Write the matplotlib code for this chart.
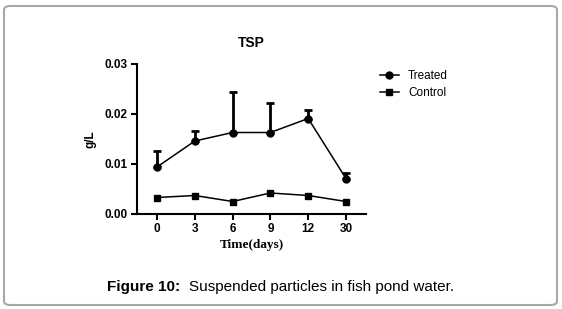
import matplotlib
matplotlib.use("Agg")
import matplotlib.pyplot as plt
from matplotlib.patches import FancyBboxPatch
import numpy as np

# data
days = ["0", "3", "6", "9", "12", "30"]
treated = [0.0094, 0.0146, 0.0163, 0.0163, 0.0191, 0.0071]
treated_err = [0.0033, 0.0021, 0.0082, 0.0060, 0.0018, 0.0012]
control = [0.0033, 0.0037, 0.0025, 0.0042, 0.0037, 0.0025]

plt.rcParams['font.family'] = ['Liberation Sans', 'DejaVu Sans']

fig = plt.figure(figsize=(5.62, 3.09), dpi=100)
ax = fig.add_axes([137/562, 1 - 214/309, (366 - 137)/562, (214 - 64)/309])

x = np.arange(len(days))
ax.errorbar(x, treated, yerr=[np.zeros(len(treated)), treated_err],
            fmt='none', ecolor='black', elinewidth=2, capsize=3, capthick=2)
ax.plot(x, treated, '-o', color='black', lw=1.1, ms=5, label='Treated')
ax.plot(x, control, '-s', color='black', lw=1.1, ms=5, label='Control')

ax.set_xlim(-0.53, len(days) - 1 + 0.53)
ax.set_ylim(0, 0.03)
ax.set_xticks(x)
ax.set_xticklabels(days)
ax.set_yticks([0, 0.01, 0.02, 0.03])
ax.set_yticklabels(["0.00", "0.01", "0.02", "0.03"])

for s in ['top', 'right']:
    ax.spines[s].set_visible(False)
for s in ['left', 'bottom']:
    ax.spines[s].set_linewidth(1.5)
ax.tick_params(width=1.5, length=4, labelsize=8.5, pad=2.5)
for lab in ax.get_xticklabels() + ax.get_yticklabels():
    lab.set_fontweight('bold')

ax.set_title("TSP", fontsize=10, fontweight='bold', pad=12)
ax.set_ylabel("g/L", fontsize=8.5, fontweight='bold', labelpad=6)
ax.set_xlabel("Time(days)", fontsize=9.5, fontweight='bold',
              family='Liberation Serif', labelpad=3)

ax.legend(loc='upper left', bbox_to_anchor=(375/562, 1 - 65/309),
          bbox_transform=fig.transFigure, frameon=False, fontsize=8.5,
          handlelength=1.6, labelspacing=0.45, borderaxespad=0)

# caption
fig.text(107/562, 1 - 287/309, "Figure 10:", fontsize=11, fontweight='bold', va='center')
fig.text(189/562, 1 - 287/309, "Suspended particles in fish pond water.", fontsize=11, va='center')

# rounded frame around the figure
frame = FancyBboxPatch((4/562, 4/309), 553/562, 299/309,
                       boxstyle="round,pad=0,rounding_size=0.012",
                       transform=fig.transFigure, fill=False,
                       edgecolor='#a8a8a8', lw=1.5)
fig.patches.append(frame)

fig.savefig("out.png", dpi=100)
